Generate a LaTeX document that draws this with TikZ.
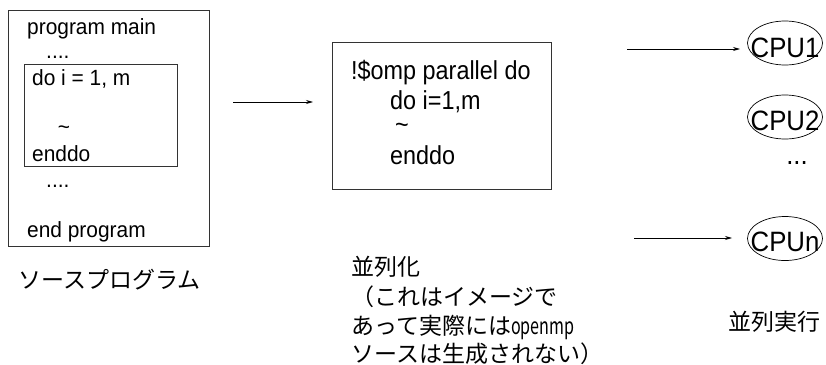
\documentclass[tikz,border=0pt]{standalone}
\usepackage{fontspec}
\setmainfont{Liberation Sans}
\newfontfamily\leftf{Liberation Sans}[FakeStretch=0.95]
\newfontfamily\midf{Liberation Sans}[FakeStretch=0.9]
\newfontfamily\cpuf{Liberation Sans}[FakeStretch=0.92]
\newfontfamily\jp{Noto Sans CJK JP}
\newfontfamily\jpn{Noto Sans CJK JP}[FakeStretch=0.7]
\usetikzlibrary{arrows.meta,shapes.geometric}
\tikzset{
  box/.style={draw=black!80,line width=0.8pt},
  code/.style={anchor=base west,inner sep=0pt,font=\leftf\fontsize{22}{24}\selectfont},
  mcode/.style={anchor=base west,inner sep=0pt,font=\midf\fontsize{26}{28}\selectfont},
  jtext/.style={anchor=base west,inner sep=0pt,font=\jp\fontsize{23}{26}\selectfont},
  cpu/.style={draw,ellipse,line width=0.7pt,minimum width=75pt,minimum height=44pt,inner sep=0pt},
  cputext/.style={anchor=base,inner sep=0pt,font=\cpuf\fontsize{28}{30}\selectfont},
  arr/.style={line width=0.8pt,-{Stealth[length=7pt,width=4pt]}}
}
\begin{document}
\begin{tikzpicture}[x=1pt,y=-1pt]
\useasboundingbox (0,0) rectangle (826,364);
% left source program
\node[box,minimum width=201pt,minimum height=236pt,inner sep=0pt] (outer) at (108.5,128) {};
\node[box,minimum width=153pt,minimum height=102pt,inner sep=0pt] (inner) at (100.5,115) {};
\node[code] (l1) at (27,34) {program main};
\node[code] (l2) at (46,58) {....};
\node[code] (l3) at (32,85) {do i = 1, m};
\node[code,anchor=center] (l4) at (64,130) {\textasciitilde};
\node[code] (l5) at (32,161) {enddo};
\node[code] (l6) at (46,187) {....};
\node[code] (l7) at (27,237) {end program};
\node[jtext] (src) at (18,288) {ソースプログラム};
% arrow 1
\coordinate (a1s) at (233,102);
\coordinate (a1e) at (313,102);
\draw[arr] (a1s) -- (a1e);
% middle box
\node[box,minimum width=219pt,minimum height=147pt,inner sep=0pt] (mid) at (441.5,115.5) {};
\node[mcode] (m1) at (351,79) {!\$omp parallel do};
\node[mcode] (m2) at (390,109) {do i=1,m};
\node[mcode,anchor=center] (m3) at (402,128) {\textasciitilde};
\node[mcode] (m4) at (390,164) {enddo};
\node[jtext] (p1) at (351,275) {並列化};
\node[jtext] (p2) at (351,305) {（これはイメージで};
\node[jtext] (p3) at (351,334) {あって実際には{\jpn openmp}};
\node[jtext] (p4) at (351,362) {ソースは生成されない）};
% CPUs
\node[cpu] (cpu1) at (785,43) {};
\node[cputext] (t1) at (785,57) {CPU1};
\node[cpu] (cpu2) at (785,117) {};
\node[cputext] (t2) at (785,130) {CPU2};
\node[cputext] (dots) at (797,164) {...};
\node[cpu] (cpun) at (785,238.5) {};
\node[cputext] (tn) at (785,251) {CPUn};
\coordinate (c1s) at (627,49);
\coordinate (c1e) at (740,49);
\draw[arr] (c1s) -- (c1e);
\coordinate (cns) at (634,238);
\coordinate (cne) at (732,238);
\draw[arr] (cns) -- (cne);
\node[jtext] (exe) at (728,330) {並列実行};
\end{tikzpicture}
\end{document}
